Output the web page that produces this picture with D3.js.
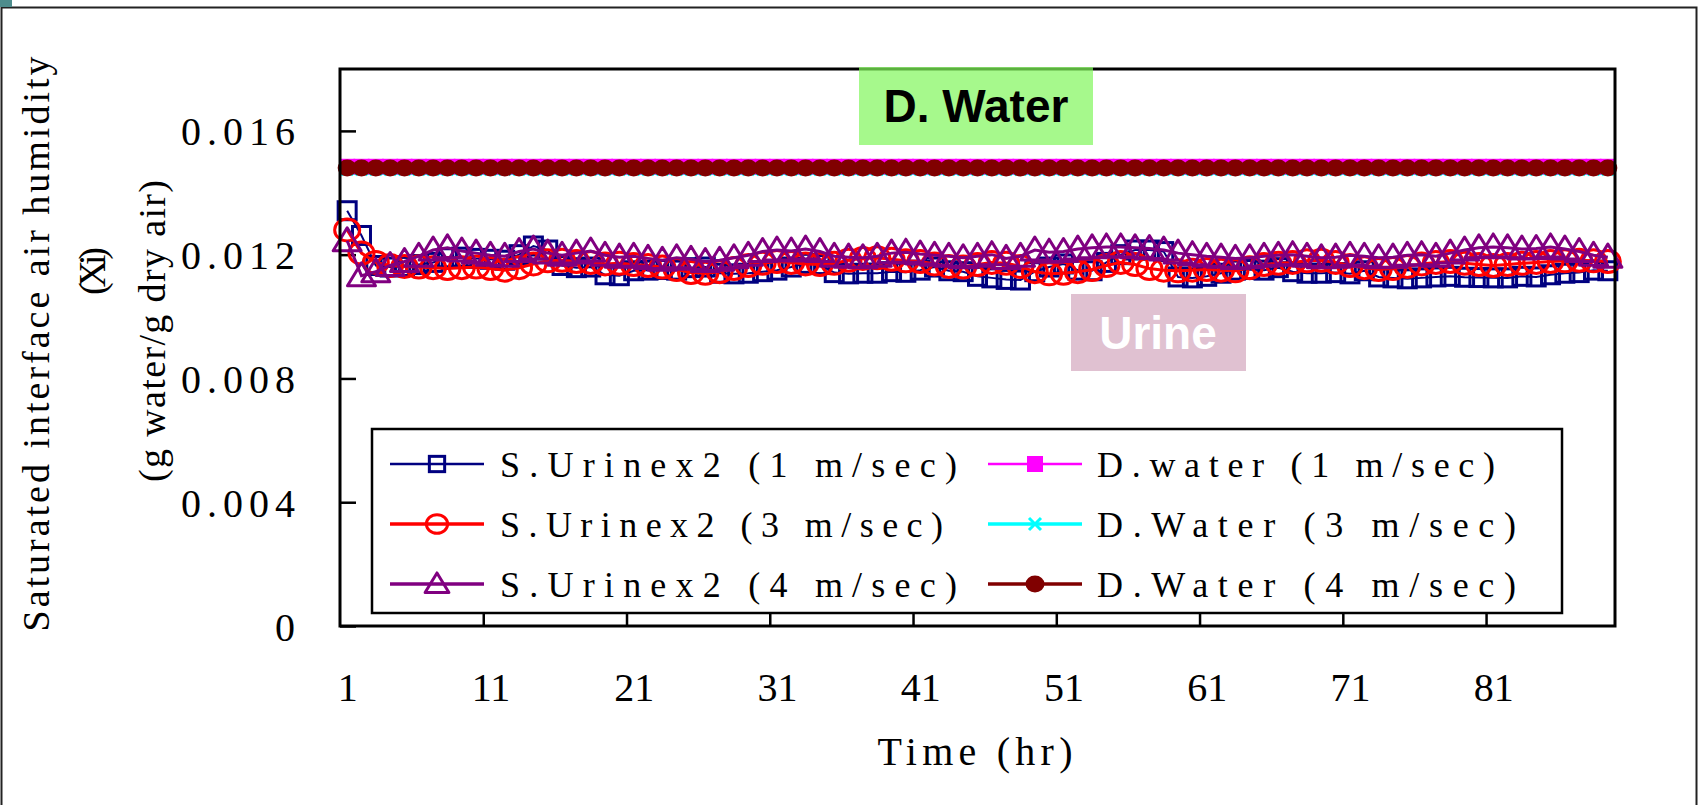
<!DOCTYPE html>
<html>
<head>
<meta charset="utf-8">
<script src="https://cdnjs.cloudflare.com/ajax/libs/d3/7.8.5/d3.min.js"></script>
<style>
  body { margin: 0; background: #fff; }
  svg text { font-family: "Liberation Serif", "Times New Roman", serif; fill: #000; }
  .ann { font-family: "Liberation Sans", Arial, sans-serif; font-weight: bold; }
</style>
</head>
<body>
<div id="chart"></div>
<script>

// hours 1..89, one reading per hour
var hours = d3.range(1, 90);
var xTickLabels = [1, 11, 21, 31, 41, 51, 61, 71, 81];
var xTickMarks = [10.5, 20.5, 30.5, 40.5, 50.5, 60.5, 70.5, 80.5];
var yTicks = [0, 0.004, 0.008, 0.012, 0.016];

var urine1 = [
    0.01342, 0.01262, 0.01165, 0.01160, 0.01162, 0.01168, 0.01175, 0.01190, 0.01192, 0.01188,
    0.01185, 0.01182, 0.01200, 0.01228, 0.01215, 0.01165, 0.01158, 0.01160, 0.01135, 0.01132,
    0.01148, 0.01150, 0.01152, 0.01150, 0.01158, 0.01160, 0.01140, 0.01138, 0.01140, 0.01145,
    0.01150, 0.01160, 0.01172, 0.01168, 0.01142, 0.01138, 0.01140, 0.01140, 0.01145, 0.01143,
    0.01150, 0.01160, 0.01148, 0.01145, 0.01130, 0.01125, 0.01120, 0.01118, 0.01145, 0.01160,
    0.01170, 0.01150, 0.01148, 0.01175, 0.01200, 0.01215, 0.01215, 0.01210, 0.01128, 0.01125,
    0.01130, 0.01140, 0.01150, 0.01152, 0.01150, 0.01158, 0.01145, 0.01140, 0.01140, 0.01142,
    0.01138, 0.01148, 0.01128, 0.01125, 0.01122, 0.01125, 0.01128, 0.01130, 0.01127, 0.01126,
    0.01125, 0.01125, 0.01130, 0.01128, 0.01135, 0.01140, 0.01142, 0.01150, 0.01148];

var urine3 = [
    0.01280, 0.01205, 0.01175, 0.01165, 0.01162, 0.01160, 0.01158, 0.01155, 0.01158, 0.01160,
    0.01155, 0.01150, 0.01158, 0.01170, 0.01180, 0.01182, 0.01178, 0.01175, 0.01170, 0.01172,
    0.01168, 0.01165, 0.01160, 0.01152, 0.01142, 0.01140, 0.01145, 0.01155, 0.01165, 0.01172,
    0.01178, 0.01175, 0.01170, 0.01168, 0.01172, 0.01182, 0.01188, 0.01190, 0.01185, 0.01180,
    0.01178, 0.01170, 0.01162, 0.01160, 0.01168, 0.01175, 0.01172, 0.01162, 0.01145, 0.01138,
    0.01140, 0.01145, 0.01152, 0.01165, 0.01175, 0.01168, 0.01155, 0.01150, 0.01148, 0.01150,
    0.01152, 0.01150, 0.01148, 0.01158, 0.01168, 0.01172, 0.01175, 0.01180, 0.01182, 0.01175,
    0.01165, 0.01158, 0.01152, 0.01155, 0.01162, 0.01170, 0.01175, 0.01178, 0.01172, 0.01168,
    0.01165, 0.01168, 0.01172, 0.01175, 0.01178, 0.01180, 0.01182, 0.01180, 0.01178];

var urine4 = [
    0.01245, 0.01132, 0.01145, 0.01165, 0.01178, 0.01195, 0.01215, 0.01222, 0.01212, 0.01205,
    0.01198, 0.01195, 0.01210, 0.01218, 0.01205, 0.01198, 0.01205, 0.01212, 0.01198, 0.01192,
    0.01195, 0.01188, 0.01182, 0.01190, 0.01185, 0.01178, 0.01182, 0.01190, 0.01198, 0.01210,
    0.01215, 0.01212, 0.01218, 0.01210, 0.01195, 0.01192, 0.01190, 0.01195, 0.01205, 0.01208,
    0.01202, 0.01198, 0.01195, 0.01190, 0.01195, 0.01200, 0.01188, 0.01195, 0.01215, 0.01208,
    0.01210, 0.01218, 0.01222, 0.01225, 0.01225, 0.01222, 0.01220, 0.01215, 0.01205, 0.01200,
    0.01195, 0.01192, 0.01188, 0.01190, 0.01195, 0.01198, 0.01200, 0.01195, 0.01190, 0.01192,
    0.01198, 0.01195, 0.01190, 0.01192, 0.01198, 0.01200, 0.01195, 0.01205, 0.01215, 0.01222,
    0.01225, 0.01222, 0.01218, 0.01220, 0.01225, 0.01218, 0.01210, 0.01198, 0.01192];

var water1 = [
    0.01484, 0.01484, 0.01484, 0.01484, 0.01484, 0.01484, 0.01484, 0.01484, 0.01484, 0.01484,
    0.01484, 0.01484, 0.01484, 0.01484, 0.01484, 0.01484, 0.01484, 0.01484, 0.01484, 0.01484,
    0.01484, 0.01484, 0.01484, 0.01484, 0.01484, 0.01484, 0.01484, 0.01484, 0.01484, 0.01484,
    0.01484, 0.01484, 0.01484, 0.01484, 0.01484, 0.01484, 0.01484, 0.01484, 0.01484, 0.01484,
    0.01484, 0.01484, 0.01484, 0.01484, 0.01484, 0.01484, 0.01484, 0.01484, 0.01484, 0.01484,
    0.01484, 0.01484, 0.01484, 0.01484, 0.01484, 0.01484, 0.01484, 0.01484, 0.01484, 0.01484,
    0.01484, 0.01484, 0.01484, 0.01484, 0.01484, 0.01484, 0.01484, 0.01484, 0.01484, 0.01484,
    0.01484, 0.01484, 0.01484, 0.01484, 0.01484, 0.01484, 0.01484, 0.01484, 0.01484, 0.01484,
    0.01484, 0.01484, 0.01484, 0.01484, 0.01484, 0.01484, 0.01484, 0.01484, 0.01484];

var water3 = [
    0.01476, 0.01476, 0.01476, 0.01476, 0.01476, 0.01476, 0.01476, 0.01476, 0.01476, 0.01476,
    0.01476, 0.01476, 0.01476, 0.01476, 0.01476, 0.01476, 0.01476, 0.01476, 0.01476, 0.01476,
    0.01476, 0.01476, 0.01476, 0.01476, 0.01476, 0.01476, 0.01476, 0.01476, 0.01476, 0.01476,
    0.01476, 0.01476, 0.01476, 0.01476, 0.01476, 0.01476, 0.01476, 0.01476, 0.01476, 0.01476,
    0.01476, 0.01476, 0.01476, 0.01476, 0.01476, 0.01476, 0.01476, 0.01476, 0.01476, 0.01476,
    0.01476, 0.01476, 0.01476, 0.01476, 0.01476, 0.01476, 0.01476, 0.01476, 0.01476, 0.01476,
    0.01476, 0.01476, 0.01476, 0.01476, 0.01476, 0.01476, 0.01476, 0.01476, 0.01476, 0.01476,
    0.01476, 0.01476, 0.01476, 0.01476, 0.01476, 0.01476, 0.01476, 0.01476, 0.01476, 0.01476,
    0.01476, 0.01476, 0.01476, 0.01476, 0.01476, 0.01476, 0.01476, 0.01476, 0.01476];

var water4 = [
    0.01480, 0.01480, 0.01480, 0.01480, 0.01480, 0.01480, 0.01480, 0.01480, 0.01480, 0.01480,
    0.01480, 0.01480, 0.01480, 0.01480, 0.01480, 0.01480, 0.01480, 0.01480, 0.01480, 0.01480,
    0.01480, 0.01480, 0.01480, 0.01480, 0.01480, 0.01480, 0.01480, 0.01480, 0.01480, 0.01480,
    0.01480, 0.01480, 0.01480, 0.01480, 0.01480, 0.01480, 0.01480, 0.01480, 0.01480, 0.01480,
    0.01480, 0.01480, 0.01480, 0.01480, 0.01480, 0.01480, 0.01480, 0.01480, 0.01480, 0.01480,
    0.01480, 0.01480, 0.01480, 0.01480, 0.01480, 0.01480, 0.01480, 0.01480, 0.01480, 0.01480,
    0.01480, 0.01480, 0.01480, 0.01480, 0.01480, 0.01480, 0.01480, 0.01480, 0.01480, 0.01480,
    0.01480, 0.01480, 0.01480, 0.01480, 0.01480, 0.01480, 0.01480, 0.01480, 0.01480, 0.01480,
    0.01480, 0.01480, 0.01480, 0.01480, 0.01480, 0.01480, 0.01480, 0.01480, 0.01480];

var seriesNames = ["S.Urinex2 (1 m/sec)", "S.Urinex2 (3 m/sec)", "S.Urinex2 (4 m/sec)",
                   "D.water (1 m/sec)", "D.Water (3 m/sec)", "D.Water (4 m/sec)"];

// style per series, drawn in this order
var series = [
    {values: urine1, color: "#000080", marker: "square",  width: 2,   name: seriesNames[0]},
    {values: urine3, color: "#ff0000", marker: "circle",  width: 3,   name: seriesNames[1]},
    {values: urine4, color: "#800080", marker: "triangle",width: 3,   name: seriesNames[2]},
    {values: water1, color: "#ff00ff", marker: "fsquare", width: 2,   name: seriesNames[3]},
    {values: water3, color: "#00ffff", marker: "cross",   width: 3,   name: seriesNames[4]},
    {values: water4, color: "#800000", marker: "dot",     width: 3,   name: seriesNames[5]}
];

var W = 1700, H = 805;
var plot = {left: 340, right: 1615, top: 69, bottom: 626};

var svg = d3.select("#chart").append("svg")
    .attr("width", W)
    .attr("height", H);

svg.append("rect").attr("width", W).attr("height", H).attr("fill", "#fff");
// slide frame
svg.append("rect").attr("x", 1.5).attr("y", 7.5).attr("width", 1695).attr("height", 830)
    .attr("fill", "none").attr("stroke", "#222").attr("stroke-width", 2);
svg.append("rect").attr("x", 0).attr("y", 0).attr("width", 12).attr("height", 7).attr("fill", "#4d8c8c");

var x = d3.scaleLinear().domain([0.5, 89.5]).range([plot.left, plot.right]);
var y = d3.scaleLinear().domain([0, 0.018]).range([plot.bottom, plot.top]);

// Urine label sits under the data
svg.append("rect").attr("x", 1071).attr("y", 294).attr("width", 175).attr("height", 77)
    .attr("fill", "#e0c1d1");
svg.append("text").attr("class", "ann")
    .attr("x", 1158).attr("y", 333).attr("dy", "0.35em")
    .attr("text-anchor", "middle")
    .style("font-size", "46px").style("fill", "#fff")
    .text("Urine");

// axes
var yAxis = svg.append("g")
    .attr("transform", "translate(" + plot.left + ",0)")
    .call(d3.axisLeft(y).tickValues(yTicks).tickSizeInner(-16).tickSizeOuter(0).tickPadding(45)
        .tickFormat(function(d) { return d === 0 ? "0" : d3.format(".3f")(d); }));
yAxis.select(".domain").remove();
yAxis.selectAll("line").attr("stroke", "#000").attr("stroke-width", 2.5);
yAxis.selectAll("text")
    .style("font-size", "40px")
    .attr("dy", "0.35em")
    .each(function(d) {
        if (d !== 0) d3.select(this).attr("textLength", 114).attr("lengthAdjust", "spacing");
    });

var xMarks = svg.append("g")
    .attr("transform", "translate(0," + plot.bottom + ")")
    .call(d3.axisBottom(x).tickValues(xTickMarks).tickSizeInner(-16).tickSizeOuter(0).tickFormat(""));
xMarks.select(".domain").remove();
xMarks.selectAll("line").attr("stroke", "#000").attr("stroke-width", 2.5);

var xLabels = svg.append("g")
    .attr("transform", "translate(0," + plot.bottom + ")")
    .call(d3.axisBottom(x).tickValues(xTickLabels).tickSize(0).tickPadding(47));
xLabels.select(".domain").remove();
xLabels.selectAll("text").style("font-size", "40px");

// data
var line = d3.line()
    .x(function(d, i) { return x(hours[i]); })
    .y(function(d) { return y(d); });

function marker(g, type, cx, cy, color, k) {
    k = k || 1;
    if (type == "square") {
        var h = 9 * k;
        g.append("rect").attr("x", cx - h).attr("y", cy - h).attr("width", 2 * h).attr("height", 2 * h)
            .attr("fill", "none").attr("stroke", color).attr("stroke-width", 3);
    } else if (type == "circle") {
        g.append("ellipse").attr("cx", cx).attr("cy", cy).attr("rx", 12.5 * k).attr("ry", 11 * k)
            .attr("fill", "none").attr("stroke", color).attr("stroke-width", 3);
    } else if (type == "triangle") {
        g.append("path")
            .attr("d", "M" + cx + "," + (cy - 13 * k) + "L" + (cx + 14 * k) + "," + (cy + 10 * k) +
                       "L" + (cx - 14 * k) + "," + (cy + 10 * k) + "Z")
            .attr("fill", "none").attr("stroke", color).attr("stroke-width", 3).attr("stroke-linejoin", "round");
    } else if (type == "fsquare") {
        g.append("rect").attr("x", cx - 8).attr("y", cy - 8).attr("width", 16).attr("height", 16)
            .attr("fill", color);
    } else if (type == "cross") {
        g.append("path")
            .attr("d", "M" + (cx - 6) + "," + (cy - 6) + "L" + (cx + 6) + "," + (cy + 6) +
                       "M" + (cx - 6) + "," + (cy + 6) + "L" + (cx + 6) + "," + (cy - 6))
            .attr("stroke", color).attr("stroke-width", 3);
    } else if (type == "dot") {
        g.append("ellipse").attr("cx", cx).attr("cy", cy).attr("rx", 9.5).attr("ry", 8.5)
            .attr("fill", color);
    }
}

series.forEach(function(s) {
    var g = svg.append("g");
    g.append("path")
        .datum(s.values)
        .attr("fill", "none")
        .attr("stroke", s.color)
        .attr("stroke-width", s.width)
        .attr("d", line);
    s.values.forEach(function(v, i) {
        marker(g, s.marker, x(hours[i]), y(v), s.color);
    });
});

// plot frame
svg.append("rect")
    .attr("x", plot.left).attr("y", plot.top)
    .attr("width", plot.right - plot.left).attr("height", plot.bottom - plot.top)
    .attr("fill", "none").attr("stroke", "#000").attr("stroke-width", 3);

// legend
var legend = svg.append("g");
legend.append("rect").attr("x", 372).attr("y", 429).attr("width", 1190).attr("height", 184)
    .attr("fill", "#fff").attr("stroke", "#000").attr("stroke-width", 2.5);
var rowsY = [464, 524, 584];
var cols = [{x0: 390, x1: 484, tx: 500}, {x0: 988, x1: 1082, tx: 1097}];
var textLens = [457, 443, 457, 398, 419, 419];
series.forEach(function(s, i) {
    var c = cols[Math.floor(i / 3)], ry = rowsY[i % 3];
    legend.append("line").attr("x1", c.x0).attr("x2", c.x1).attr("y1", ry).attr("y2", ry)
        .attr("stroke", s.color).attr("stroke-width", s.width + 0.5);
    marker(legend, s.marker, (c.x0 + c.x1) / 2, ry, s.color, 0.85);
    legend.append("text")
        .attr("x", c.tx).attr("y", ry).attr("dy", "0.35em")
        .attr("textLength", textLens[i]).attr("lengthAdjust", "spacing")
        .style("font-size", "36px")
        .text(s.name);
});

// D. Water label covers the top of the frame
svg.append("rect").attr("x", 859).attr("y", 67).attr("width", 234).attr("height", 78)
    .attr("fill", "#a6f98c");
svg.append("line").attr("x1", 859).attr("x2", 1093).attr("y1", 69).attr("y2", 69)
    .attr("stroke", "#5cb040").attr("stroke-width", 3);
svg.append("text").attr("class", "ann")
    .attr("x", 976).attr("y", 106).attr("dy", "0.35em")
    .attr("text-anchor", "middle")
    .style("font-size", "46px")
    .text("D. Water");

// axis titles
svg.append("text")
    .attr("x", 975).attr("y", 751).attr("dy", "0.35em")
    .attr("text-anchor", "middle")
    .attr("textLength", 195).attr("lengthAdjust", "spacing")
    .style("font-size", "40px")
    .text("Time (hr)");

var yTitle = [
    {text: "Saturated interface air humidity", cx: 36, cy: 344, len: 575},
    {text: "(Xi)", cx: 92, cy: 271, len: 48},
    {text: "(g water/g dry air)", cx: 152, cy: 331, len: 302}
];
yTitle.forEach(function(t) {
    svg.append("text")
        .attr("transform", "translate(" + t.cx + "," + t.cy + ") rotate(-90)")
        .attr("text-anchor", "middle")
        .attr("dy", "0.35em")
        .attr("textLength", t.len).attr("lengthAdjust", "spacing")
        .style("font-size", "38px")
        .text(t.text);
});

</script>
</body>
</html>
